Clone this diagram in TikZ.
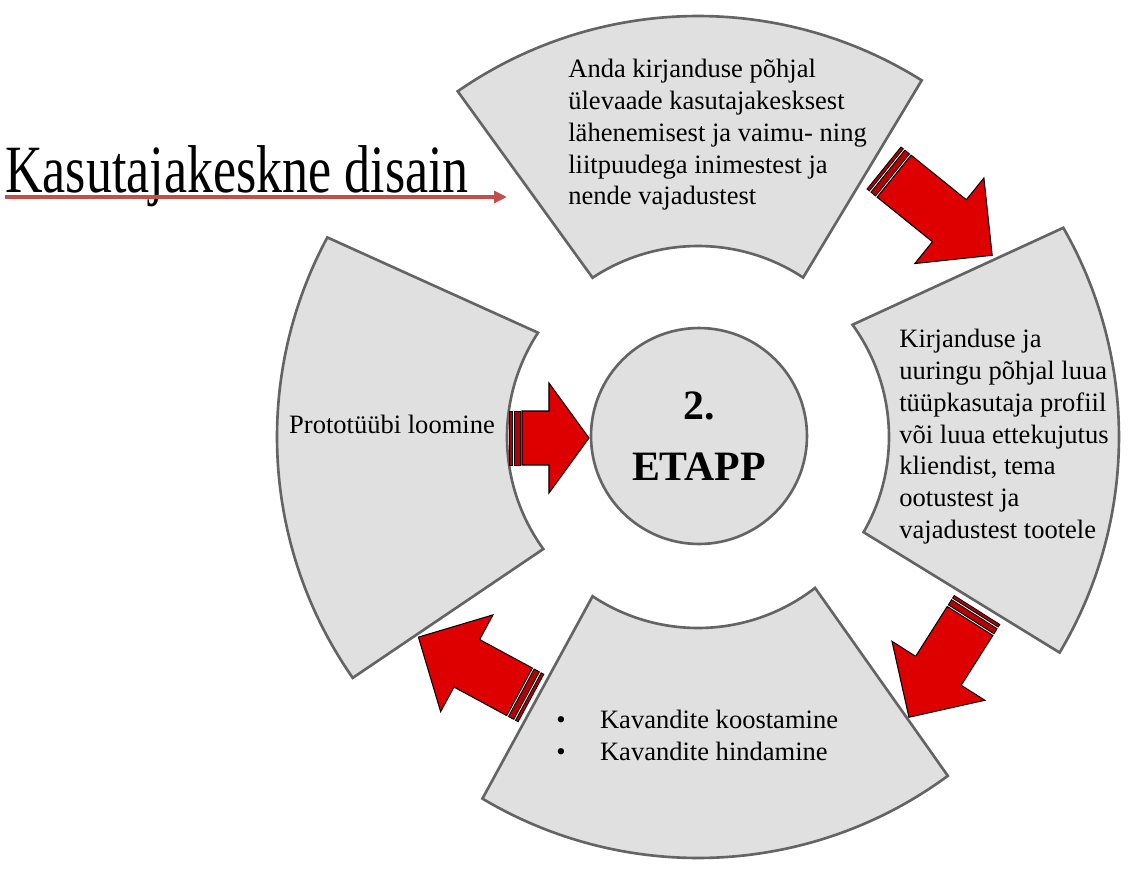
\documentclass[tikz,border=0pt]{standalone}
\usepackage{fontspec}
\setmainfont{Liberation Serif}
\usetikzlibrary{arrows.meta,positioning,calc}
\definecolor{sectfill}{HTML}{E0E0E0}
\definecolor{sectline}{HTML}{646464}
\definecolor{arrowred}{HTML}{DE0000}
\definecolor{stripered}{HTML}{B40000}
\definecolor{titlered}{HTML}{C0504D}
\tikzset{
  sector/.style={draw=sectline, fill=sectfill, line width=1.5pt, line join=miter},
  hub/.style={circle, draw=sectline, fill=sectfill, line width=1.5pt, minimum size=4.32cm,
    inner sep=0pt, align=center, font=\fontsize{23.8}{35}\selectfont\bfseries},
  body/.style={inner sep=0pt, align=left, font=\fontsize{15.1}{18.1}\selectfont},
  blockarrow/.style={fill=arrowred, draw=black, line width=.6pt, line join=miter},
  stripe/.style={fill=stripered, draw=black, line width=.5pt},
  titleline/.style={-{Triangle[length=2.6mm,width=2.4mm]}, draw=titlered, line width=1.9pt}
}
% tail x, tail y, angle, length, head length
\newcommand{\stripedarrow}[5]{%
  \begin{scope}[shift={(#1,#2)}, rotate=#3]
    \draw[stripe] (0,-27) rectangle (3,27);
    \draw[stripe] (5,-27) rectangle (11,27);
    \draw[blockarrow] (13,-27) -- ({#4-#5},-27) -- ({#4-#5},-55) -- (#4,0)
      -- ({#4-#5},55) -- ({#4-#5},27) -- (13,27) -- cycle;
  \end{scope}}

\begin{document}
\begin{tikzpicture}[x=0.02cm,y=0.02cm]
  \useasboundingbox (-698,-436) rectangle (434,437);

  % the four stages
  \draw[sector] (124.8:421) arc[start angle=124.8, end angle=57.9, radius=421]
    -- (56.6:191) arc[start angle=56.6, end angle=123.5, radius=191] -- cycle;
  \draw[sector] (29.8:421) arc[start angle=29.8, end angle=-30.8, radius=421]
    -- (-29.9:191) arc[start angle=-29.9, end angle=36, radius=191] -- cycle;
  \draw[sector] (-53.6:421) arc[start angle=-53.6, end angle=-120.8, radius=421]
    -- (-123.5:191) arc[start angle=-123.5, end angle=-52.2, radius=191] -- cycle;
  \draw[sector] (214.9:421) arc[start angle=214.9, end angle=151.7, radius=421]
    -- (146.9:191) arc[start angle=146.9, end angle=215.9, radius=191] -- cycle;

  \node[body,anchor=north west] (review) at (-130,378)
    {Anda kirjanduse põhjal\\ülevaade kasutajakesksest\\lähenemisest ja vaimu-\ ning\\liitpuudega inimestest ja\\nende vajadustest};
  \node[body,anchor=north west] (profile) at (201,108)
    {Kirjanduse ja\\uuringu põhjal luua\\tüüpkasutaja profiil\\või\ luua ettekujutus\\kliendist, tema\\ootustest ja\\vajadustest tootele};
  \node[body,anchor=base west] (sketch1) at (-142,-291)
    {\makebox[24.9pt][l]{\textbullet}Kavandite koostamine};
  \node[body,anchor=base west] (sketch2) at (-142,-323)
    {\makebox[24.9pt][l]{\textbullet}Kavandite hindamine};
  \node[body,anchor=base] (proto) at (-306,4) {Prototüübi loomine};

  \node[hub] (hub) at (1,1) {2.\\ETAPP};

  % cycle arrows
  \stripedarrow{186}{269}{-38.9}{139}{55}
  \stripedarrow{279}{-173}{-122.4}{127}{55}
  \stripedarrow{-167}{-261}{151.6}{128}{55}
  \stripedarrow{-189}{-1}{0}{80}{40}

  % heading
  \node[inner sep=0pt,anchor=base west,yscale=1.3,transform shape,
    font=\fontsize{29.6}{34}\selectfont] (title) at (-693,245) {Kasutajakeskne disain};
  \coordinate (titleend) at (-191,240);
  \draw[titleline] ($(title.base west)+(0,-5)$) -- (titleend);
\end{tikzpicture}
\end{document}
